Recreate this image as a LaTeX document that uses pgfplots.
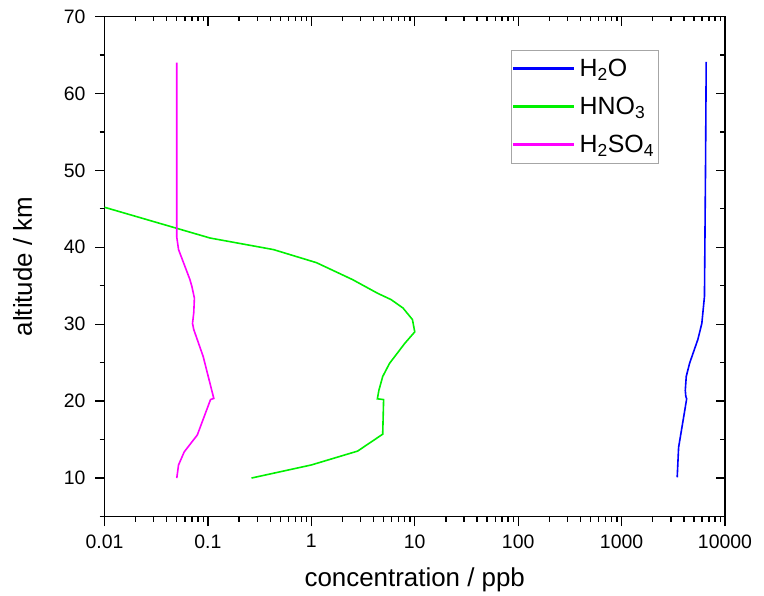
\documentclass[border=0pt]{standalone}
\usepackage{pgfplots}
\pgfplotsset{compat=1.18}
\usepackage{pgfplotstable}
\usepackage{fontspec}
\setmainfont{Liberation Sans}

\definecolor{cH2O}{RGB}{0,0,255}
\definecolor{cHNO3}{RGB}{0,240,0}
\definecolor{cH2SO4}{RGB}{255,0,255}

% altitude (km) and mixing ratio (ppb)
\pgfplotstableread{
alt conc
64.1 6580
50.0 6480
33.6 6330
30.1 5970
28.0 5460
24.9 4540
23.2 4220
21.4 4130
20.6 4180
20.3 4260
14.0 3560
10.1 3450
}\hwater

\pgfplotstableread{
alt conc
45.2 0.0100
41.2 0.105
39.7 0.43
38.0 1.12
35.8 2.5
34.0 4.4
33.2 5.9
32.1 7.7
30.6 9.5
29.0 10.0
27.5 8.0
24.9 5.7
23.2 4.9
21.4 4.5
20.3 4.35
20.2 5.0
15.7 4.9
13.5 2.8
11.7 1.0
10.0 0.264
}\hnitric

\pgfplotstableread{
alt conc
64.0 0.050
41.3 0.050
39.7 0.052
37.5 0.060
35.8 0.067
34.9 0.070
33.4 0.074
31.5 0.073
30.1 0.071
29.3 0.073
25.8 0.090
20.35 0.114
20.2 0.106
15.6 0.079
13.4 0.059
11.7 0.052
10.0 0.050
}\hsulf

\pgfplotsset{
  commonaxis/.style={
    at={(104.5bp,79.5bp)}, anchor=south west,
    scale only axis, width=620.5bp, height=500bp,
    xmin=0.01, xmax=10000, ymin=5, ymax=70,
    xtick={0.01,0.1,1,10,100,1000,10000},
    minor xtick={0.02,0.03,0.04,0.05,0.06,0.07,0.08,0.09,
                 0.2,0.3,0.4,0.5,0.6,0.7,0.8,0.9,
                 2,3,4,5,6,7,8,9,
                 20,30,40,50,60,70,80,90,
                 200,300,400,500,600,700,800,900,
                 2000,3000,4000,5000,6000,7000,8000,9000},
    ytick={10,20,...,70},
    minor ytick={5,15,...,65},
    axis line style={line width=1.6bp},
    major tick style={line width=1.3bp, black},
    minor tick style={line width=1.3bp, black},
    major tick length=9.5bp, minor tick length=5bp,
  }
}

\begin{document}
\begin{tikzpicture}
\useasboundingbox (0,0) rectangle (764bp,596bp);
% mirrored ticks on the top and right edges, pointing inward
\begin{semilogxaxis}[commonaxis,
  xtick pos=right, ytick pos=right, tick align=inside,
  xticklabels={}, yticklabels={}]
\end{semilogxaxis}
\begin{semilogxaxis}[commonaxis,
  xtick pos=left, ytick pos=left, tick align=outside,
  xticklabels={0.01,0.1,1,10,100,1000,10000},
  /pgf/number format/assume math mode=true,
  tick label style={font=\fontsize{19.5}{22}\selectfont},
  xticklabel style={yshift=-5bp},
  yticklabel style={xshift=-6bp},
  xlabel={concentration / ppb},
  ylabel={altitude / km},
  label style={font=\fontsize{26}{30}\selectfont},
  xlabel style={yshift=-13bp},
  ylabel style={yshift=25bp},
  legend style={at={(0.6546,0.933)}, anchor=north west,
    draw=gray!70, line width=0.8bp, fill=white,
    font=\fontsize{25}{29}\selectfont,
    inner xsep=2bp, inner ysep=7bp,
    row sep=15bp},
  legend cell align=left,
  legend image code/.code={%
    \fill[#1] (0bp,-0.85bp) rectangle (59bp,0.85bp);
    \path (63bp,0bp);},
]
\addplot[cH2O, line width=1.6bp] table[x=conc, y=alt] {\hwater};
\addlegendentry{H\textsubscript{2}O}
\addplot[cHNO3, line width=1.6bp] table[x=conc, y=alt] {\hnitric};
\addlegendentry{HNO\textsubscript{3}}
\addplot[cH2SO4, line width=1.6bp] table[x=conc, y=alt] {\hsulf};
\addlegendentry{H\textsubscript{2}SO\textsubscript{4}}
\end{semilogxaxis}
\end{tikzpicture}
\end{document}
